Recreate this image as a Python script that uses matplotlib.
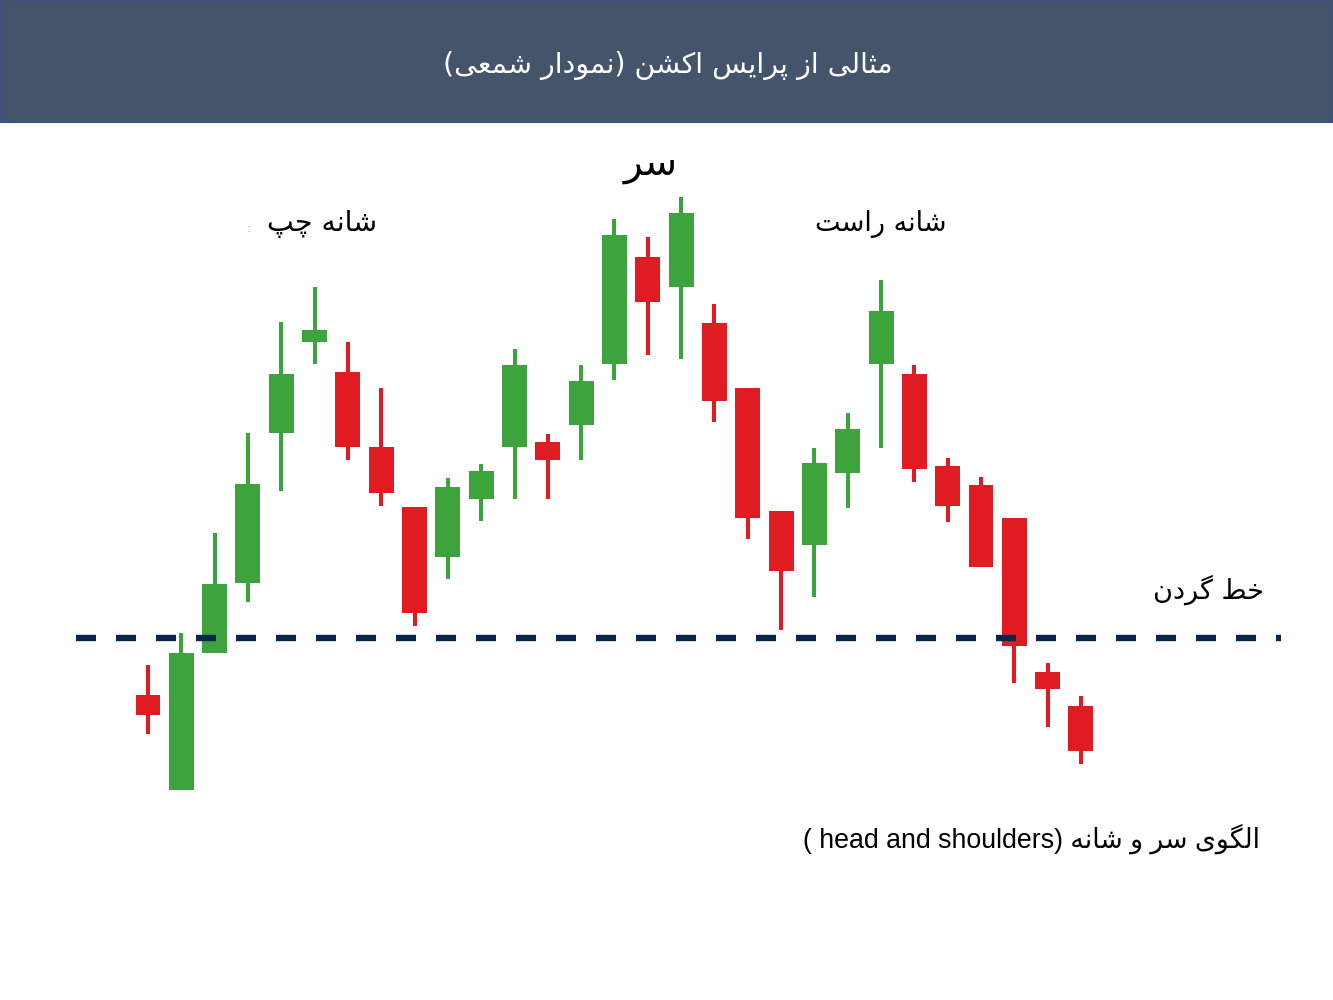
import matplotlib
matplotlib.use("Agg")
import matplotlib.pyplot as plt
from matplotlib.patches import Rectangle

# candle data (price units)
opens = [305, 210, 347, 417, 567, 658, 628, 553, 493, 443, 501, 553, 558, 575, 636,
         743, 713, 677, 612, 489, 455, 527, 636, 626, 534, 515, 482, 328, 294]
closes = [285, 347, 416, 516, 626, 670, 553, 507, 387, 513, 529, 635, 540, 619, 765,
          698, 787, 599, 482, 429, 537, 571, 689, 531, 494, 433, 354, 311, 249]
highs = [335, 367, 467, 567, 678, 713, 658, 612, 493, 522, 536, 651, 566, 635, 781,
         763, 803, 696, 612, 489, 552, 587, 720, 635, 542, 523, 482, 337, 304]
lows = [266, 210, 347, 398, 509, 636, 540, 494, 374, 421, 479, 501, 501, 540, 620,
        645, 641, 578, 461, 370, 403, 492, 552, 518, 478, 433, 317, 273, 236]
neckline = 362

title = "مثالی از پرایس اکشن (نمودار شمعی)"
lbl_head = "سر"
lbl_left = "شانه چپ"
lbl_right = "شانه راست"
lbl_neck = "خط گردن"
lbl_pattern = "الگوی سر و شانه"
lbl_pattern_en = "( head and shoulders)"

GREEN = "#3da33d"
RED = "#e11b22"
NAVY = "#0a2549"
HEADER = "#44546a"

# minimal persian shaping: isolated, final, initial, medial
FORMS = {
    'ا': ('\uFE8D', '\uFE8E', None, None),
    'د': ('\uFEA9', '\uFEAA', None, None),
    'ر': ('\uFEAD', '\uFEAE', None, None),
    'ز': ('\uFEAF', '\uFEB0', None, None),
    'و': ('\uFEED', '\uFEEE', None, None),
    'پ': ('\uFB56', '\uFB57', '\uFB58', '\uFB59'),
    'ت': ('\uFE95', '\uFE96', '\uFE97', '\uFE98'),
    'ث': ('\uFE99', '\uFE9A', '\uFE9B', '\uFE9C'),
    'چ': ('\uFB7A', '\uFB7B', '\uFB7C', '\uFB7D'),
    'خ': ('\uFEA5', '\uFEA6', '\uFEA7', '\uFEA8'),
    'س': ('\uFEB1', '\uFEB2', '\uFEB3', '\uFEB4'),
    'ش': ('\uFEB5', '\uFEB6', '\uFEB7', '\uFEB8'),
    'ط': ('\uFEC1', '\uFEC2', '\uFEC3', '\uFEC4'),
    'ع': ('\uFEC9', '\uFECA', '\uFECB', '\uFECC'),
    'ک': ('\uFB8E', '\uFB8F', '\uFB90', '\uFB91'),
    'گ': ('\uFB92', '\uFB93', '\uFB94', '\uFB95'),
    'ل': ('\uFEDD', '\uFEDE', '\uFEDF', '\uFEE0'),
    'م': ('\uFEE1', '\uFEE2', '\uFEE3', '\uFEE4'),
    'ن': ('\uFEE5', '\uFEE6', '\uFEE7', '\uFEE8'),
    'ه': ('\uFEE9', '\uFEEA', '\uFEEB', '\uFEEC'),
    'ی': ('\uFBFC', '\uFBFD', '\uFBFE', '\uFBFF'),
}
MIRROR = {'(': ')', ')': '('}


def fa(text):
    out = []
    for i, ch in enumerate(text):
        if ch not in FORMS:
            out.append(ch)
            continue
        prev = text[i - 1] if i > 0 else ''
        nxt = text[i + 1] if i + 1 < len(text) else ''
        pj = prev in FORMS and FORMS[prev][2] is not None
        nj = nxt in FORMS and FORMS[ch][2] is not None
        f = FORMS[ch]
        if pj and nj:
            out.append(f[3])
        elif pj:
            out.append(f[1])
        elif nj:
            out.append(f[2])
        else:
            out.append(f[0])
    return ''.join(MIRROR.get(c, c) for c in reversed(out))


W, H = 1333, 1000
step = 33.32
x0 = 148
fig = plt.figure(figsize=(W / 100, H / 100), dpi=100)
ax = fig.add_axes([0, 0, 1, 1])
ax.set_xlim(-x0 / step, (W - x0) / step)
ax.set_ylim(0, 1000)
ax.axis('off')

xs = list(range(len(opens)))
for i in xs:
    o, c, hi, lo = opens[i], closes[i], highs[i], lows[i]
    col = GREEN if c >= o else RED
    ax.vlines(i, lo, hi, color=col, lw=2.9, zorder=2)
    ax.bar(i, abs(c - o), bottom=min(o, c), width=0.75, color=col, zorder=3)

# neckline: 6.4px thick, 20px dash / 20px gap
lw_pt = 4.6
unit = 20 / (lw_pt * 100 / 72)
ax.plot([(76 - x0) / step, (1281 - x0) / step], [neckline, neckline], color=NAVY,
        lw=lw_pt, dashes=(unit, unit), dash_capstyle='butt', zorder=4)

# header band
fig.patches.append(Rectangle((0.0, 1 - 122 / H), 1.0, 122 / H, transform=fig.transFigure,
                             facecolor=HEADER, edgecolor='#3b5283', lw=1.5, zorder=0))
fig.text(668 / W, 1 - 65 / H, fa(title), color='white', fontsize=20.5,
         family=['DejaVu Sans'], ha='center', va='center')

fig.text(651 / W, 1 - 165 / H, fa(lbl_head), color='black', fontsize=28,
         family=['DejaVu Sans'], ha='center', va='center')
fig.text(322 / W, 1 - 224 / H, fa(lbl_left), color='black', fontsize=20.5,
         family=['DejaVu Sans'], ha='center', va='center')
fig.text(249 / W, 1 - 229 / H, ':', color='#b0b0b0', fontsize=9, ha='center', va='center')
fig.text(881 / W, 1 - 224 / H, fa(lbl_right), color='black', fontsize=19.5,
         family=['DejaVu Sans'], ha='center', va='center')
fig.text(1208 / W, 1 - 590 / H, fa(lbl_neck), color='black', fontsize=19.5,
         family=['DejaVu Sans'], ha='center', va='center')
fig.text(1260 / W, 1 - 839 / H, lbl_pattern_en + ' ' + fa(lbl_pattern), color='black',
         fontsize=19.3, family=['Liberation Sans', 'DejaVu Sans'], ha='right', va='center')

fig.savefig('out.png', dpi=100)
